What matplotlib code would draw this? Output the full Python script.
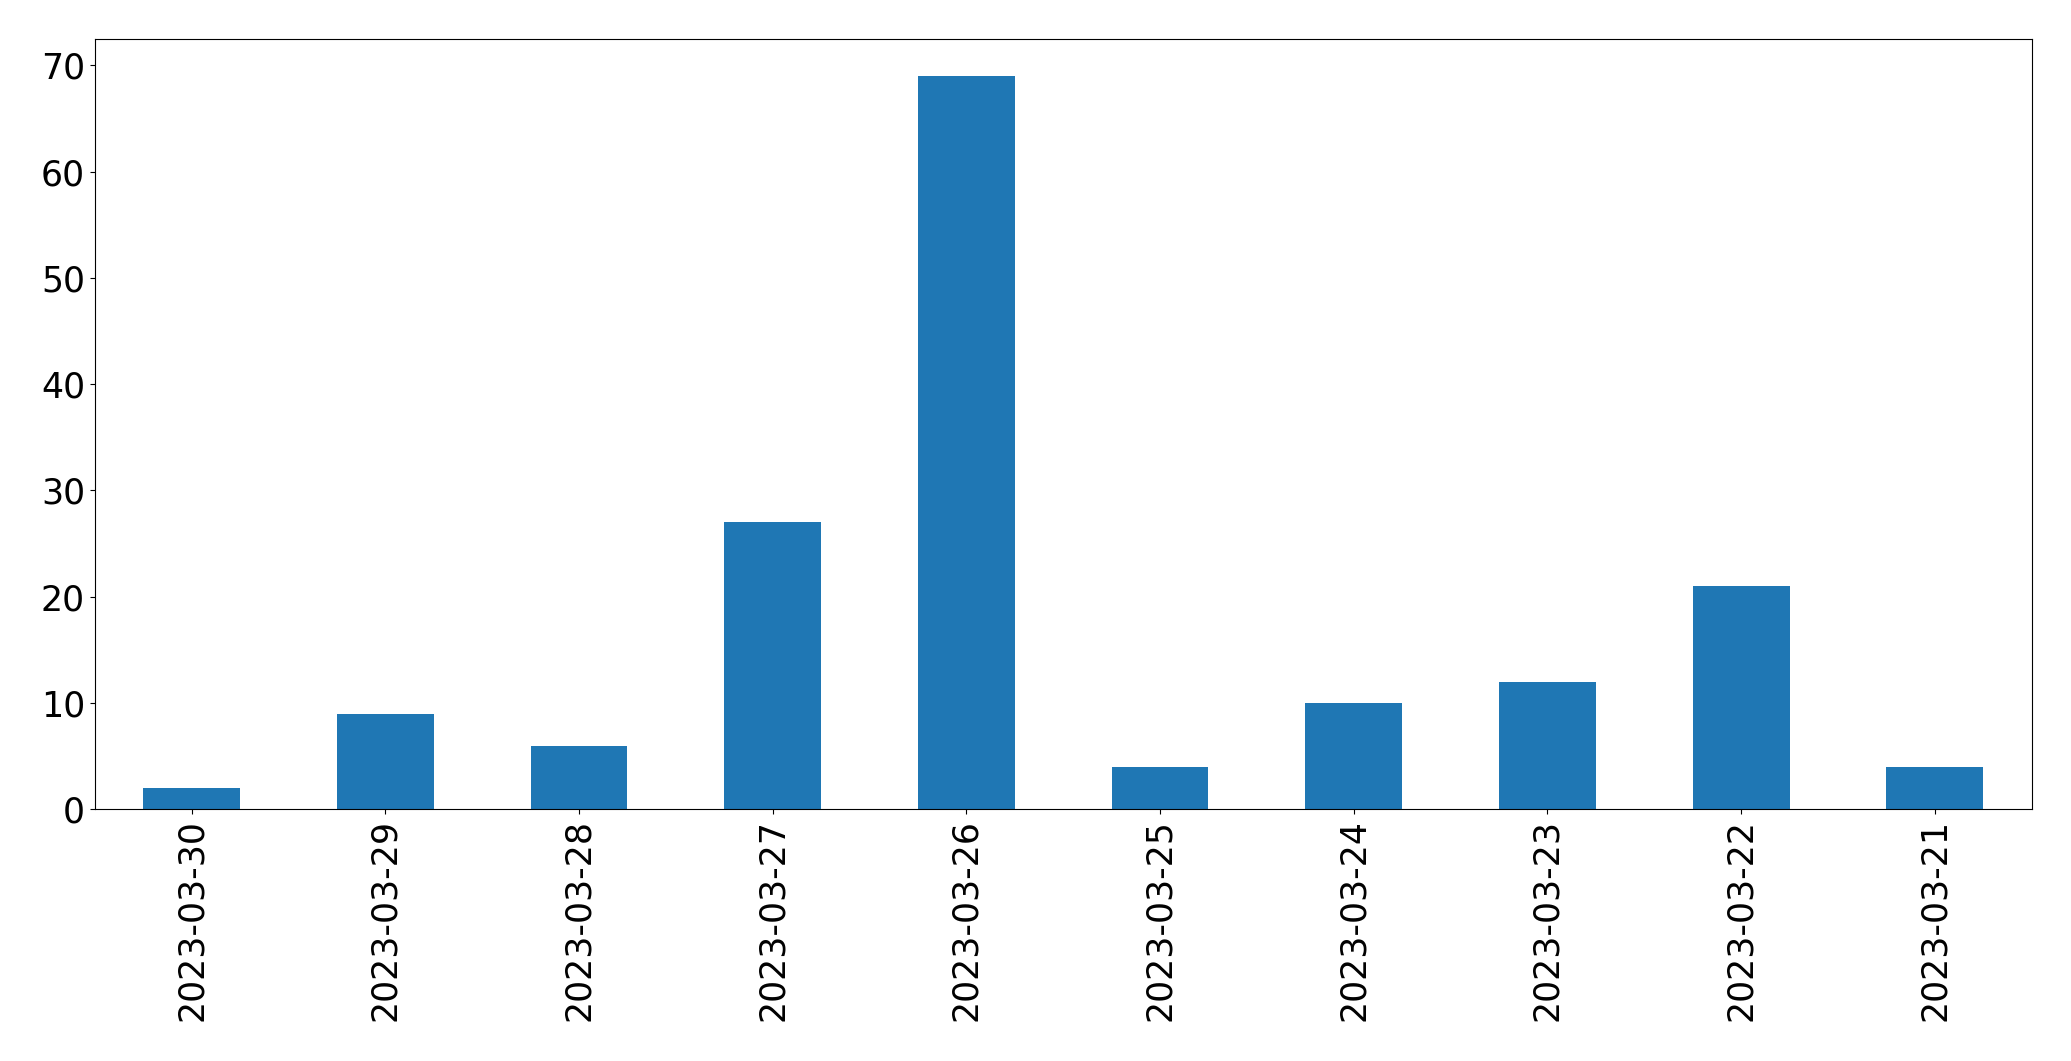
import matplotlib
matplotlib.use("Agg")
import matplotlib.pyplot as plt

dates = ["2023-03-30", "2023-03-29", "2023-03-28", "2023-03-27", "2023-03-26",
         "2023-03-25", "2023-03-24", "2023-03-23", "2023-03-22", "2023-03-21"]
counts = [2, 9, 6, 27, 69, 4, 10, 12, 21, 4]

W, H = 2071, 1061
fig = plt.figure(figsize=(W / 100, H / 100), dpi=100)
left, right, top, bottom = 94.7, 2031.7, 39.3, 809.3
ax = fig.add_axes([left / W, 1 - bottom / H, (right - left) / W, (bottom - top) / H])

x = list(range(len(dates)))
ax.bar(x, counts, width=0.5, color="#1f77b4")
ax.set_xlim(-0.5, len(dates) - 0.5)
ax.set_ylim(0, max(counts) * 1.05)
ax.set_xticks(x)
ax.set_xticklabels(dates, rotation=90)
ax.tick_params(axis="both", labelsize=25)

fig.savefig("out.png", dpi=100)
